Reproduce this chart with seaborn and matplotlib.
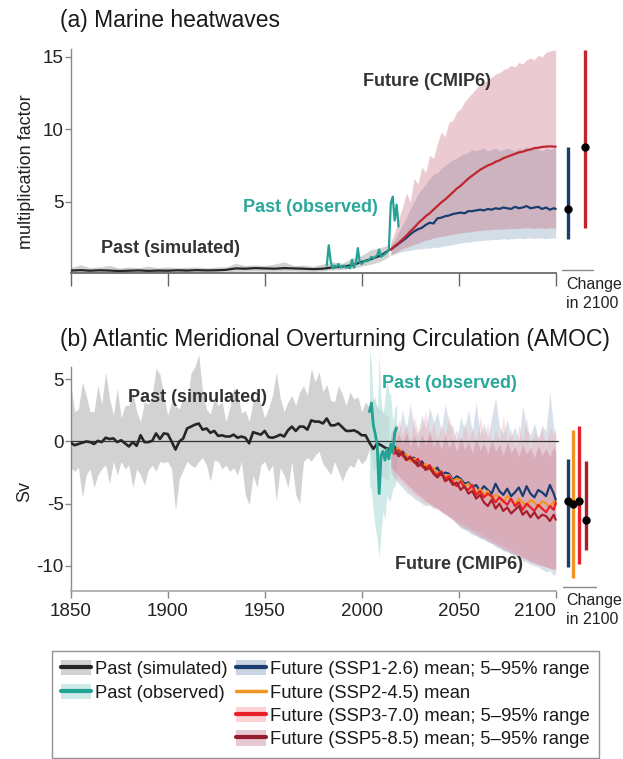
import matplotlib
matplotlib.use("Agg")
import numpy as np
import pandas as pd
import matplotlib.pyplot as plt
import seaborn as sns
from matplotlib import font_manager
from matplotlib.patches import Patch
from matplotlib.lines import Line2D
from matplotlib.transforms import ScaledTranslation

# ---------------- data ----------------
# Panel (a) marine heatwaves (multiplication factor)
a_years_past = list(range(1850, 2011, 5)) + [2014]
a_sim_mean = [0.25, 0.28, 0.24, 0.27, 0.25, 0.22, 0.24, 0.26, 0.23, 0.25,
              0.24, 0.27, 0.25, 0.28, 0.26, 0.27, 0.30, 0.40, 0.38, 0.42,
              0.40, 0.38, 0.42, 0.40, 0.38, 0.35, 0.38, 0.47, 0.52, 0.62,
              0.84, 1.05, 1.30, 1.65]
a_sim_hi = [0.45, 0.65, 0.45, 0.50, 0.60, 0.42, 0.50, 0.45, 0.55, 0.45,
            0.50, 0.45, 0.48, 0.50, 0.45, 0.50, 0.50, 0.75, 0.60, 0.65,
            0.60, 0.70, 0.85, 0.60, 0.62, 0.55, 0.70, 0.85, 0.75, 1.10,
            1.30, 1.70, 1.85, 2.00]
a_sim_lo = [0.12, 0.13, 0.12, 0.12, 0.13, 0.11, 0.12, 0.13, 0.12, 0.12,
            0.12, 0.13, 0.12, 0.13, 0.12, 0.13, 0.15, 0.20, 0.20, 0.22,
            0.20, 0.20, 0.22, 0.21, 0.20, 0.18, 0.22, 0.30, 0.32, 0.40,
            0.55, 0.70, 0.90, 1.20]
a_obs_years = list(range(1982, 2020))
a_obs = [0.6, 2.0, 0.9, 0.4, 0.6, 0.5, 0.7, 0.45, 0.55, 0.6,
         0.45, 0.5, 0.4, 1.0, 0.45, 0.75, 1.8, 0.8, 0.7, 0.85,
         0.95, 0.9, 1.0, 1.2, 1.1, 1.2, 1.3, 1.7, 1.2, 1.3,
         1.4, 1.5, 1.7, 4.9, 5.35, 3.7, 4.8, 3.3]

years_f = list(range(2015, 2100, 2)) + [2100]
a_ssp585_mean = [1.70, 1.95, 2.15, 2.40, 2.65, 2.95, 3.20, 3.50, 3.75, 4.00,
                 4.20, 4.45, 4.70, 4.95, 5.15, 5.40, 5.65, 5.90, 6.10, 6.35,
                 6.60, 6.80, 7.00, 7.20, 7.35, 7.50, 7.60, 7.75, 7.85, 8.00,
                 8.10, 8.20, 8.30, 8.40, 8.45, 8.55, 8.60, 8.70, 8.72, 8.78,
                 8.80, 8.82, 8.80, 8.80]
a_ssp585_hi = [2.2, 2.9, 3.8, 4.6, 5.6, 5.0, 6.6, 6.2, 7.4, 7.0,
               8.2, 8.0, 9.0, 9.8, 9.5, 10.5, 10.6, 11.2, 11.4, 11.9,
               12.2, 12.5, 12.8, 13.1, 13.2, 13.4, 13.6, 13.8, 13.9, 14.1,
               14.2, 14.4, 14.3, 14.6, 14.5, 14.8, 14.9, 14.8, 15.1, 15.0,
               15.3, 15.4, 15.45, 15.46]
a_ssp585_lo = [1.3, 1.45, 1.6, 1.75, 1.85, 1.95, 2.05, 2.15, 2.25, 2.35,
               2.4, 2.5, 2.55, 2.6, 2.65, 2.7, 2.75, 2.8, 2.85, 2.9,
               2.9, 2.95, 3.0, 3.0, 3.05, 3.05, 3.1, 3.1, 3.1, 3.1,
               3.15, 3.15, 3.15, 3.15, 3.2, 3.2, 3.2, 3.15, 3.2, 3.2,
               3.15, 3.2, 3.2, 3.17]
a_ssp126_mean = [1.70, 1.90, 2.10, 2.30, 2.50, 2.75, 2.95, 3.10, 3.20, 3.40,
                 3.55, 3.50, 3.85, 3.90, 4.00, 4.05, 4.15, 4.20, 4.25, 4.20,
                 4.35, 4.35, 4.40, 4.45, 4.40, 4.50, 4.45, 4.55, 4.50, 4.60,
                 4.55, 4.50, 4.65, 4.55, 4.60, 4.70, 4.55, 4.60, 4.65, 4.50,
                 4.60, 4.45, 4.55, 4.50]
a_ssp126_hi = [2.0, 2.4, 2.9, 3.4, 3.9, 4.5, 5.0, 5.5, 5.9, 6.2,
               6.6, 6.9, 7.0, 7.3, 7.5, 7.7, 7.9, 8.0, 8.2, 8.3,
               8.4, 8.6, 8.5, 8.6, 8.7, 8.5, 8.6, 8.7, 8.5, 8.6,
               8.7, 8.6, 8.5, 8.7, 8.6, 8.8, 8.6, 8.7, 8.6, 8.5,
               8.7, 8.6, 8.7, 8.8]
a_ssp126_lo = [1.3, 1.4, 1.5, 1.55, 1.6, 1.65, 1.7, 1.75, 1.75, 1.8,
               1.8, 1.85, 1.85, 1.9, 1.95, 2.0, 2.05, 2.1, 2.15, 2.2,
               2.2, 2.25, 2.3, 2.3, 2.35, 2.35, 2.4, 2.4, 2.4, 2.45,
               2.4, 2.45, 2.45, 2.5, 2.45, 2.5, 2.5, 2.45, 2.5, 2.5,
               2.45, 2.5, 2.5, 2.48]
a_change_lo = [2.43, 3.17]     # SSP1-2.6, SSP5-8.5
a_change_hi = [8.79, 15.46]
a_change_mid = [4.48, 8.79]

# Panel (b) AMOC (Sv)
b_years_past = list(range(1850, 2015, 2))
b_sim_mean = [-0.1, -0.3, -0.2, -0.1, 0.0, -0.05, -0.2, 0.05, -0.05, 0.3,
              0.2, 0.25, -0.05, 0.1, -0.15, -0.4, -0.05, -0.35, 0.5, -0.05,
              -0.05, 0.05, 0.65, 0.2, 0.65, 0.6, 0.0, -0.65, 0.0, 0.25,
              1.05, 1.2, 1.35, 1.45, 0.95, 1.05, 0.7, 0.85, 0.45, 0.5,
              0.4, 0.4, 0.55, 0.3, 0.4, 0.3, -0.15, 0.75, 0.65, 0.55,
              0.85, 0.35, 0.3, 0.4, 0.55, 0.4, 0.9, 1.2, 0.85, 1.2,
              1.2, 0.95, 1.7, 1.6, 1.6, 1.45, 1.85, 1.3, 1.3, 1.45,
              1.15, 0.85, 0.85, 0.9, 0.75, 0.5, 0.5, -0.1, -0.6, -0.15,
              -0.3, -0.5, -0.6]
b_sim_hi = [4.7, 2.4, 2.6, 4.8, 3.7, 2.4, 2.4, 4.5, 3.0, 5.6,
            3.5, 2.1, 4.3, 1.9, 2.9, 2.9, 4.0, 2.4, 1.6, 3.2,
            3.0, 3.7, 5.9, 5.4, 3.7, 2.1, 3.2, 2.9, 2.6, 3.7,
            3.2, 5.5, 6.0, 7.0, 4.0, 2.6, 2.2, 3.5, 2.9, 3.2,
            1.6, 2.7, 4.3, 4.0, 2.3, 2.5, 1.6, 3.2, 3.7, 3.0,
            1.9, 2.7, 3.7, 5.6, 3.5, 2.4, 3.2, 3.7, 2.9, 4.0,
            4.5, 3.7, 5.9, 4.8, 5.6, 4.0, 4.6, 3.3, 3.2, 4.5,
            3.8, 2.9, 4.0, 3.4, 3.6, 2.4, 3.2, 2.7, 3.5, 2.8,
            2.5, 2.2, 2.0]
b_sim_lo = [-2.1, -2.4, -2.1, -4.5, -2.7, -2.2, -3.7, -2.7, -2.2, -1.9,
            -3.4, -1.6, -2.7, -1.6, -2.2, -1.9, -3.7, -2.2, -2.7, -3.5,
            -2.3, -1.9, -2.4, -1.6, -1.7, -1.6, -2.2, -5.6, -3.0, -2.3,
            -1.6, -1.9, -2.1, -1.6, -1.3, -1.9, -3.2, -1.5, -1.6, -2.2,
            -1.9, -2.4, -2.1, -2.7, -1.6, -4.3, -5.1, -2.7, -3.7, -1.9,
            -1.6, -2.4, -1.9, -4.8, -2.1, -2.7, -3.7, -1.6, -4.3, -5.0,
            -1.6, -1.3, -1.6, -1.1, -0.8, -1.8, -2.2, -2.7, -1.6, -2.4,
            -3.2, -2.4, -1.9, -2.1, -1.3, -1.8, -1.5, -0.6, -2.4, -2.0,
            -2.8, -3.0, -3.2]
b_obs_years = list(range(2004, 2019))
b_obs = [2.4, 3.1, 1.3, 0.6, -0.3, -4.2, -1.1, -0.8, -1.5, -0.6, -1.4, -0.2, -0.9, 0.7, 1.1]
b_obs_hi = [7.5, 6.2, 3.0, 3.7, 2.0, 7.0, 3.2, 2.2, 3.5, 5.1, 4.0, 3.7, 1.5, 2.7, 3.0]
b_obs_lo = [-3.5, -4.0, -5.6, -7.0, -7.8, -9.4, -7.2, -5.6, -6.3, -4.3, -4.8, -4.6, -3.8, -3.6, -3.0]

b_ssp126_mean = [-0.7, -0.4, -1.1, -0.8, -1.2, -1.4, -1.3, -1.8, -1.6, -2.1,
                 -2.0, -2.4, -2.1, -2.7, -2.5, -2.6, -3.1, -2.8, -3.0, -3.4,
                 -3.3, -3.7, -3.5, -4.0, -3.6, -3.9, -4.2, -3.4, -4.0, -4.3,
                 -3.8, -4.4, -4.1, -3.7, -4.4, -3.6, -4.2, -4.5, -3.9, -4.1,
                 -4.4, -3.5, -4.2, -4.7]
b_ssp245_mean = [-0.6, -0.9, -0.5, -1.2, -1.0, -1.6, -1.4, -1.5, -2.0, -1.8,
                 -2.3, -2.1, -2.6, -2.4, -2.9, -2.7, -3.2, -3.0, -3.1, -3.6,
                 -3.4, -3.9, -4.2, -3.8, -4.3, -4.0, -4.6, -4.3, -4.5, -4.9,
                 -4.4, -4.7, -5.1, -4.6, -4.9, -5.2, -4.7, -4.9, -5.3, -4.8,
                 -5.0, -5.3, -4.8, -5.1]
b_ssp370_mean = [-0.5, -1.0, -0.7, -1.1, -1.5, -1.2, -1.7, -1.4, -2.0, -2.2,
                 -1.9, -2.5, -2.7, -2.4, -3.0, -2.8, -3.3, -3.6, -3.2, -3.7,
                 -3.9, -3.5, -4.3, -4.0, -4.5, -4.2, -4.4, -4.9, -4.5, -4.8,
                 -5.1, -4.6, -5.2, -4.9, -5.5, -5.0, -5.3, -5.6, -5.1, -5.4,
                 -5.7, -5.2, -5.5, -4.9]
b_ssp585_mean = [-0.8, -0.6, -1.2, -0.9, -1.5, -1.3, -1.6, -2.0, -1.8, -2.3,
                 -2.1, -2.6, -2.9, -2.5, -3.2, -3.0, -3.5, -3.3, -3.9, -3.6,
                 -4.2, -4.0, -4.6, -4.3, -4.9, -5.2, -4.7, -5.4, -5.0, -5.6,
                 -5.3, -5.8, -5.5, -5.2, -5.9, -5.6, -6.1, -5.7, -6.2, -5.9,
                 -6.0, -6.4, -5.9, -6.3]
b_ssp126_hi = [0.5, 1.5, 0.8, 2.5, 1.0, 3.0, 1.2, 0.5, 2.2, 1.0,
               2.8, 1.5, 2.4, 0.8, 3.0, 1.5, 1.2, 0.0, 2.0, 1.0,
               2.5, 0.8, 3.2, 0.5, 1.5, 0.2, 2.0, 3.5, 1.2, 0.6,
               1.8, 0.4, 1.2, 0.0, 2.9, 1.0, 0.5, 1.5, 0.3, 1.3,
               0.8, 4.0, 1.0, 0.6]
b_ssp126_lo = [-2.5, -3.0, -3.4, -3.7, -4.1, -4.3, -4.6, -4.8, -5.0, -5.2,
               -5.1, -5.4, -5.3, -5.7, -5.8, -6.0, -6.3, -6.6, -7.0, -7.1,
               -7.3, -7.5, -7.6, -7.8, -7.9, -8.1, -8.2, -8.5, -8.6, -8.8,
               -8.9, -9.1, -9.2, -9.4, -9.6, -9.7, -9.9, -10.0, -10.1, -10.3,
               -10.5, -10.4, -10.8, -10.6]
b_ssp370_hi = [0.8, 0.0, 1.8, 0.5, 1.5, 0.2, 2.0, 0.8, 1.2, 2.5,
               0.4, 1.6, 0.0, 1.4, 0.5, 2.2, 0.2, 1.0, -0.3, 1.6,
               0.0, 1.2, -0.2, 2.0, 0.5, 1.5, -0.5, 1.0, 0.0, 2.2,
               -0.2, 1.0, -0.4, 1.4, 0.0, 2.0, -0.5, 0.8, 0.2, 1.0,
               -0.3, 1.2, 0.5, 1.2]
b_ssp370_lo = [-2.3, -2.7, -3.1, -3.4, -3.7, -4.0, -4.3, -4.5, -4.8, -5.0,
               -5.1, -5.3, -5.5, -5.6, -5.8, -6.0, -6.2, -6.4, -6.6, -6.7,
               -6.9, -7.1, -7.2, -7.4, -7.6, -7.7, -7.9, -8.1, -8.3, -8.4,
               -8.6, -8.8, -8.9, -9.1, -9.3, -9.4, -9.6, -9.7, -9.9, -10.0,
               -10.1, -10.2, -10.3, -10.2]
b_ssp585_hi = [0.3, -0.3, 0.6, -0.2, 0.8, -0.4, 0.5, -0.5, 0.6, -0.3,
               0.9, -0.4, 0.3, -0.6, 0.5, -0.5, 0.2, -0.8, 0.4, -0.6,
               0.0, -0.9, 0.3, -0.7, -0.1, -1.0, 0.2, -0.8, -0.2, -1.1,
               0.0, -0.9, -0.4, -1.2, -0.2, -1.0, -0.5, -1.3, -0.3, -1.1,
               -0.6, -1.2, -0.4, -0.8]
b_ssp585_lo = [-2.0, -2.4, -2.8, -3.1, -3.4, -3.7, -4.0, -4.3, -4.5, -4.8,
               -5.0, -5.2, -5.4, -5.6, -5.9, -6.1, -6.3, -6.6, -6.8, -7.0,
               -7.1, -7.3, -7.5, -7.7, -7.8, -8.0, -8.2, -8.3, -8.5, -8.7,
               -8.8, -9.0, -9.1, -9.3, -9.4, -9.5, -9.7, -9.8, -9.9, -10.0,
               -10.1, -10.2, -10.3, -10.3]
b_change_lo = [-10.1, -11.0, -9.9, -8.7]   # SSP1-2.6, SSP2-4.5, SSP3-7.0, SSP5-8.5
b_change_hi = [-1.4, 0.94, 1.26, -1.6]
b_change_mid = [-4.8, -5.0, -4.83, -6.3]

x_ticks = [1850, 1900, 1950, 2000, 2050, 2100]
b_yticks = [-10, -5, 0, 5]
a_yticks = [5, 10, 15]

legend_labels = ["Past (simulated)", "Past (observed)",
                 "Future (SSP1-2.6) mean; 5\u201395% range", "Future (SSP2-4.5) mean",
                 "Future (SSP3-7.0) mean; 5\u201395% range", "Future (SSP5-8.5) mean; 5\u201395% range"]

# ---------------- style ----------------
sns.set_theme(style="white")
names = {f.name for f in font_manager.fontManager.ttflist}
fam = "Liberation Sans Narrow" if "Liberation Sans Narrow" in names else "Liberation Sans"
plt.rcParams["font.family"] = [fam, "DejaVu Sans"]

C_BLACK = "#262626"
C_GREY = "#d2d2d2"
C_TEAL = "#22a194"
C_TEAL_TXT = "#2aa89a"
C_TEAL_BAND = "#bfe3df"
C_126 = "#1a3d70"
C_245 = "#f39322"
C_370 = "#e8202a"
C_585a = "#c0262d"
C_585 = "#a81f2a"
C_126_BAND = "#a9bccf"
C_370_BAND = "#f6a8ad"
C_585_BAND = "#c0506a"
C_TXT = "#333333"

FS_TITLE = 16.5
FS_TICK = 13.5
FS_ANN = 13
FS_LAB = 13
FS_CHG = 11.5
FS_LEG = 13.2

W, H = 623, 759
fig = plt.figure(figsize=(W / 100, H / 100), dpi=100)


def frac_box(left, top, right, bottom):
    return [left / W, 1 - bottom / H, (right - left) / W, (bottom - top) / H]


x_right_px = 70.7 + 275 * 1.94
axA = fig.add_axes(frac_box(70.7, 49.5, x_right_px, 272.7))
axB = fig.add_axes(frac_box(70.7, 347.1, x_right_px, 590.5))


def line(ax, x, y, color, lw, z):
    df = pd.DataFrame({"x": x, "y": y})
    sns.lineplot(data=df, x="x", y="y", ax=ax, color=color, lw=lw, zorder=z,
                 estimator=None, legend=False)


# ---- panel (a)
axA.fill_between(a_years_past, a_sim_lo, a_sim_hi, color=C_GREY, lw=0, zorder=1)
axA.fill_between(years_f, a_ssp126_lo, a_ssp126_hi, color=C_126_BAND, alpha=0.5, lw=0, zorder=2)
axA.fill_between(years_f, a_ssp585_lo, a_ssp585_hi, color=C_585_BAND, alpha=0.3, lw=0, zorder=3)
line(axA, a_years_past, a_sim_mean, C_BLACK, 1.6, 5)
line(axA, years_f, a_ssp126_mean, C_126, 1.6, 6)
line(axA, years_f, a_ssp585_mean, C_585a, 1.6, 7)
line(axA, a_obs_years, a_obs, C_TEAL, 1.6, 8)

xs_a = [2106.2, 2115.1]
cols_a = [C_126, C_585a]
for xv, lo, hi, mid, c in zip(xs_a, a_change_lo, a_change_hi, a_change_mid, cols_a):
    axA.vlines(xv, lo, hi, color=c, lw=2.4, zorder=9, clip_on=False)
    axA.plot([xv], [mid], "o", color="black", ms=5, zorder=10, clip_on=False)
axA.plot([2103.2, 2119.1], [0.3, 0.3], color="#888888", lw=1, clip_on=False)

axA.set_xlim(1850, 2125)
axA.set_ylim(0.103, 15.5)
axA.set_xticks(x_ticks)
axA.set_xticklabels([])
axA.set_yticks(a_yticks)
axA.set_yticklabels([str(v) for v in a_yticks], fontsize=FS_TICK)
axA.set_xlabel("")
axA.set_ylabel("")

# ---- panel (b)
axB.fill_between(b_years_past, b_sim_lo, b_sim_hi, color=C_GREY, lw=0, zorder=1)
axB.fill_between(b_obs_years, b_obs_lo, b_obs_hi, color=C_TEAL_BAND, alpha=0.75, lw=0, zorder=2)
axB.fill_between(years_f, b_ssp126_lo, b_ssp126_hi, color=C_126_BAND, alpha=0.45, lw=0, zorder=2)
axB.fill_between(years_f, b_ssp370_lo, b_ssp370_hi, color=C_370_BAND, alpha=0.35, lw=0, zorder=3)
axB.fill_between(years_f, b_ssp585_lo, b_ssp585_hi, color=C_585_BAND, alpha=0.25, lw=0, zorder=3)
axB.plot([1850, 2101], [0, 0], color="#333333", lw=0.9, zorder=4)
line(axB, b_years_past, b_sim_mean, C_BLACK, 1.9, 5)
line(axB, years_f, b_ssp126_mean, C_126, 1.6, 6)
line(axB, years_f, b_ssp245_mean, C_245, 1.6, 6)
line(axB, years_f, b_ssp370_mean, C_370, 1.6, 7)
line(axB, years_f, b_ssp585_mean, C_585, 1.6, 7)
line(axB, b_obs_years, b_obs, C_TEAL, 2.0, 8)

xs_b = [2106.2, 2109.1, 2112.2, 2115.4]
cols_b = [C_126, C_245, C_370, C_585]
for xv, lo, hi, mid, c in zip(xs_b, b_change_lo, b_change_hi, b_change_mid, cols_b):
    axB.vlines(xv, lo, hi, color=c, lw=2.4, zorder=9, clip_on=False)
for xv, mid in zip(xs_b, b_change_mid):
    axB.plot([xv], [mid], "o", color="black", ms=5, zorder=10, clip_on=False)
axB.plot([2103.9, 2120.8], [-11.7, -11.7], color="#888888", lw=1, clip_on=False)

axB.set_xlim(1850, 2125)
axB.set_ylim(-12, 7.6)
axB.set_xticks(x_ticks)
axB.set_xticklabels([str(v) for v in x_ticks], fontsize=FS_TICK)
axB.set_yticks(b_yticks)
axB.set_yticklabels([str(v) for v in b_yticks], fontsize=FS_TICK)
axB.set_xlabel("")
axB.set_ylabel("")
# last year label sits left of its tick, as in the reference
last_lab = axB.get_xticklabels()[-1]
last_lab.set_horizontalalignment("right")
last_lab.set_transform(last_lab.get_transform() + ScaledTranslation(2 / 100, 0, fig.dpi_scale_trans))

for ax, top in ((axA, 15.5), (axB, 6.0)):
    for s in ("top", "right"):
        ax.spines[s].set_visible(False)
    ax.spines["bottom"].set_bounds(1850, 2100)
    ax.spines["left"].set_bounds(ax.get_ylim()[0], top)
    ax.spines["left"].set_color("#8a8a8a")
    ax.spines["left"].set_linewidth(1.0)
    ax.grid(False)
    ax.set_facecolor("none")

axA.spines["bottom"].set_color("#666666")
axB.spines["bottom"].set_color("#aaaaaa")
axA.tick_params(axis="x", direction="out", length=9, width=1, color="#666666", bottom=True)
axA.tick_params(axis="y", direction="out", length=4, width=1, color="#8a8a8a", left=True, pad=1,
                labelcolor="#222222")
axB.tick_params(axis="x", direction="out", length=5, width=1, color="#888888", bottom=True, pad=4,
                labelcolor="#222222")
axB.tick_params(axis="y", direction="out", length=4, width=1, color="#8a8a8a", left=True, pad=1,
                labelcolor="#222222")

# annotations
bold = dict(fontsize=FS_ANN, fontweight="bold", ha="center", va="center")
axA.text(1901.2, 1.8, "Past (simulated)", color=C_TXT, zorder=12, **bold)
axA.text(1973.4, 4.63, "Past (observed)", color=C_TEAL_TXT, zorder=12, **bold)
axA.text(2033.7, 13.3, "Future (CMIP6)", color=C_TXT, zorder=12, **bold)
axB.text(1915.4, 3.58, "Past (simulated)", color=C_TXT, zorder=12, **bold)
axB.text(2045.3, 4.63, "Past (observed)", color=C_TEAL_TXT, zorder=12, **bold)
axB.text(2049.9, -9.94, "Future (CMIP6)", color=C_TXT, zorder=12, **bold)

# titles and labels
fig.text(60 / W, 1 - 21 / H, "(a) Marine heatwaves", fontsize=FS_TITLE, ha="left", va="center",
         color="#1a1a1a")
fig.text(60 / W, 1 - 340 / H, "(b) Atlantic Meridional Overturning Circulation (AMOC)",
         fontsize=FS_TITLE, ha="left", va="center", color="#1a1a1a")
fig.text(27 / W, 1 - 172 / H, "multiplication factor", rotation=90, fontsize=FS_LAB, ha="center",
         va="center", color="#222222")
fig.text(25 / W, 1 - 492 / H, "Sv", rotation=90, fontsize=FS_LAB, ha="center", va="center",
         color="#222222")
for ytop, dy in ((284, 19), (600, 20)):
    fig.text(566 / W, 1 - ytop / H, "Change", fontsize=FS_CHG, ha="left", va="center", color="#222222")
    fig.text(566 / W, 1 - (ytop + dy) / H, "in 2100", fontsize=FS_CHG, ha="left", va="center",
             color="#222222")

# legend
blank = Patch(facecolor="none", edgecolor="none")
h_sim = (Patch(facecolor=C_GREY, edgecolor="none"), Line2D([], [], color=C_BLACK, lw=3))
h_obs = (Patch(facecolor="#cdeae7", edgecolor="none"), Line2D([], [], color=C_TEAL, lw=3))
h_126 = (Patch(facecolor="#c9d5e3", edgecolor="none"), Line2D([], [], color=C_126, lw=3))
h_245 = Line2D([], [], color=C_245, lw=2.5)
h_370 = (Patch(facecolor="#fcd2d5", edgecolor="none"), Line2D([], [], color=C_370, lw=3))
h_585 = (Patch(facecolor="#e7c9d1", edgecolor="none"), Line2D([], [], color="#951b2e", lw=3))
handles = [h_sim, h_obs, blank, blank, h_126, h_245, h_370, h_585]
labels = [legend_labels[0], legend_labels[1], " ", " "] + legend_labels[2:]
leg = fig.legend(handles, labels, loc="upper left", bbox_to_anchor=(52 / W, 1 - 651 / H), ncol=2,
                 frameon=True, fancybox=False, fontsize=FS_LEG, handlelength=1.65, handleheight=0.9,
                 handletextpad=0.2, columnspacing=0.45, labelspacing=0.3, borderpad=0.5,
                 borderaxespad=0)
leg.get_frame().set_edgecolor("#777777")
leg.get_frame().set_linewidth(1.0)
for t in leg.get_texts():
    t.set_color("#1a1a1a")

fig.savefig("out.png", dpi=100)
